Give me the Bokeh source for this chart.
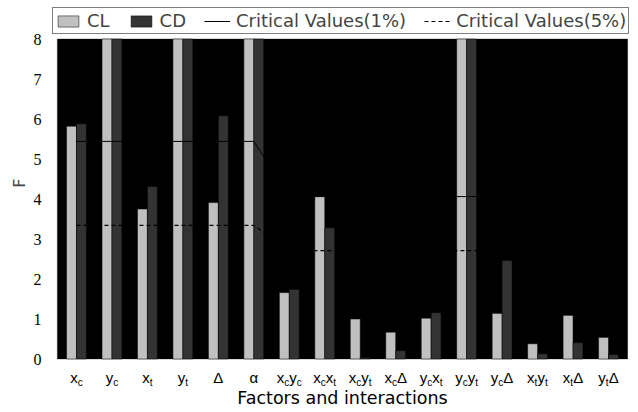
from bokeh.plotting import figure
from bokeh.models import (ColumnDataSource, Range1d, FixedTicker, Legend, LegendItem,
                          BoxAnnotation, Title)
from bokeh.transform import dodge
from bokeh.core.properties import value
from bokeh.embed import file_html
from bokeh.resources import INLINE

# ---- data ----
factors = ["x_c", "y_c", "x_t", "y_t", "Δ", "α", "x_cy_c", "x_cx_t",
           "x_cy_t", "x_cΔ", "y_cx_t", "y_cy_t", "y_cΔ", "x_ty_t", "x_tΔ", "y_tΔ"]
f_cl = [5.82, 11.3, 3.75, 14.6, 3.91, 21.4, 1.66, 4.07, 1.00, 0.67, 1.02, 10.2, 1.14, 0.38, 1.09, 0.54]
f_cd = [5.88, 13.9, 4.31, 12.1, 6.08, 17.8, 1.74, 3.28, 0.03, 0.21, 1.16, 9.6, 2.46, 0.13, 0.41, 0.11]
crit_1pct = [5.44, 5.44, 5.44, 5.44, 5.44, 5.44, 4.06, 4.06, 4.06, 4.06, 4.06, 4.06, 4.06, 4.06, 4.06, 4.06]
crit_5pct = [3.34, 3.34, 3.34, 3.34, 3.34, 3.34, 2.71, 2.71, 2.71, 2.71, 2.71, 2.71, 2.71, 2.71, 2.71, 2.71]
y_ticks = [0, 1, 2, 3, 4, 5, 6, 7, 8]
y_max = 8          # upper limit of the plotted F axis (taller bars are cut there)
x_lim = (-0.54, 15.54)
x_title = "Factors and interactions"
y_title = "F"

idx = list(range(len(factors)))
src = ColumnDataSource(dict(idx=idx,
                            cl=[min(v, y_max) for v in f_cl],
                            cd=[min(v, y_max) for v in f_cd],
                            c1=crit_1pct, c5=crit_5pct))

# the frame reaches up over the legend and down over the factor names;
# the black plotting area is a box from 0 to y_max
p = figure(width=634, height=408, x_range=Range1d(-0.789, 15.733),
           y_range=Range1d(-1.2375, 8.9625),
           output_backend="svg", toolbar_location=None,
           min_border_left=48, min_border_right=0, min_border_top=0, min_border_bottom=0)
p.background_fill_color = "white"
p.border_fill_color = "white"
p.outline_line_color = None
p.grid.grid_line_color = None
p.xaxis.visible = False

p.add_layout(BoxAnnotation(left=x_lim[0], right=x_lim[1], bottom=0, top=y_max,
                           fill_color="black", fill_alpha=1.0, line_color="black",
                           line_width=1, level="underlay"))

bw = 0.28
r_cl = p.vbar(x=dodge("idx", -bw / 2), top="cl", width=bw, source=src,
              fill_color="#c0c0c0", line_color="black", line_width=0.5)
r_cd = p.vbar(x=dodge("idx", bw / 2), top="cd", width=bw, source=src,
              fill_color="#333333", line_color="black", line_width=0.5)
r_c1 = p.line("idx", "c1", source=src, line_color="black", line_width=1)
r_c5 = p.line("idx", "c5", source=src, line_color="black", line_width=1.2, line_dash="4 3")

# y axis
p.yaxis.ticker = FixedTicker(ticks=y_ticks)
p.yaxis.major_tick_line_color = None
p.yaxis.minor_tick_line_color = None
p.yaxis.major_tick_out = 0
p.yaxis.major_tick_in = 0
p.yaxis.axis_line_color = None
p.yaxis.major_label_text_font = "Liberation Sans Narrow"
p.yaxis.major_label_text_font_size = "16px"
p.yaxis.major_label_text_color = "black"
p.yaxis.major_label_standoff = 7
p.add_layout(Title(text=y_title, align="right", offset=178, vertical_align="middle",
                   text_font="DejaVu Sans", text_font_style="normal",
                   text_font_size="16px", standoff=2), "left")

# factor names with subscripts
MAIN_W = {"x": 7.5, "y": 7.5, "Δ": 10.0, "α": 8.8}
SUB_W = {"c": 5.0, "t": 3.0}
main_rows = dict(x=[], dx=[], t=[])
sub_rows = dict(x=[], dx=[], t=[])
for i, lab in enumerate(factors):
    toks = []
    k = 0
    while k < len(lab):
        m = lab[k]
        s = None
        if k + 1 < len(lab) and lab[k + 1] == "_":
            s = lab[k + 2]
            k += 3
        else:
            k += 1
        toks.append((m, s))
    total = sum(MAIN_W[m] + (SUB_W[s] if s else 0) for m, s in toks)
    pos = -total / 2
    for m, s in toks:
        main_rows["x"].append(i); main_rows["dx"].append(pos); main_rows["t"].append(m)
        pos += MAIN_W[m]
        if s:
            sub_rows["x"].append(i); sub_rows["dx"].append(pos); sub_rows["t"].append(s)
            pos += SUB_W[s]

p.text(x="x", y=-0.4625, x_offset="dx", text="t", source=ColumnDataSource(main_rows),
       text_align="left", text_baseline="alphabetic", text_font=value("Liberation Sans"),
       text_font_size="15px", text_color="black")
p.text(x="x", y=-0.575, x_offset="dx", text="t", source=ColumnDataSource(sub_rows),
       text_align="left", text_baseline="alphabetic", text_font=value("Liberation Sans"),
       text_font_size="10px", text_color="black")
p.text(x=[(x_lim[0] + x_lim[1]) / 2], y=[-0.9625], text=[x_title], text_align="center",
       text_baseline="alphabetic", text_font=value("DejaVu Sans"),
       text_font_size="17.5px", text_color="black")

legend = Legend(items=[LegendItem(label="CL", renderers=[r_cl]),
                       LegendItem(label="CD", renderers=[r_cd]),
                       LegendItem(label="Critical Values(1%)", renderers=[r_c1]),
                       LegendItem(label="Critical Values(5%)", renderers=[r_c5])],
                orientation="horizontal", location=(4, 374),
                label_text_font="DejaVu Sans", label_text_font_size="18px",
                glyph_width=26, glyph_height=14, label_height=16, label_standoff=6,
                spacing=18, padding=2, margin=0,
                border_line_color="black", border_line_width=1,
                background_fill_color="white", background_fill_alpha=1.0)
p.add_layout(legend)

open("out.html", "w").write(file_html(p, INLINE))
